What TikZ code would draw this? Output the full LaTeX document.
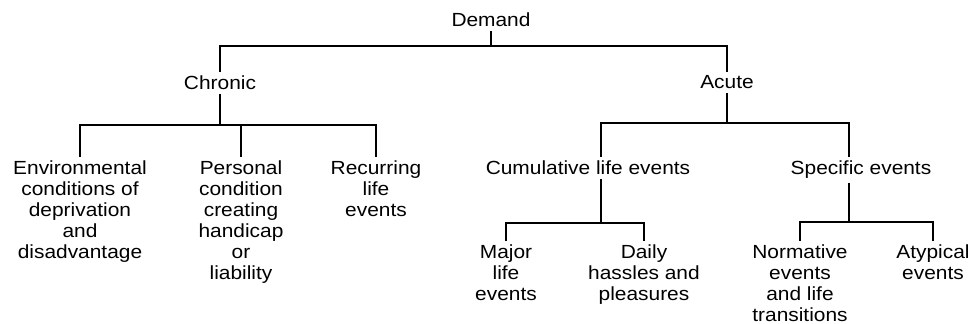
\documentclass[tikz,border=0pt]{standalone}
\usepackage{fontspec}
\setmainfont{Liberation Sans}[FakeStretch=1.1]
\begin{document}
\begin{tikzpicture}[x=1pt,y=-1pt,line width=1.8pt]
  \tikzstyle{term}=[anchor=north,inner sep=3pt,align=center,font=\fontsize{19}{21}\selectfont]
  \useasboundingbox (0,0) rectangle (972,324);
  \node[term] (D)    at (491,9)   {Demand};
  \node[term] (C)    at (220,72)  {Chronic};
  \node[term] (A)    at (727,72)  {Acute};
  \node[term] (C_1)  at (80,157)  {Environmental\\conditions of\\deprivation\\and\\disadvantage};
  \node[term] (C_2)  at (241,157) {Personal\\condition\\creating\\handicap\\or\\liability};
  \node[term] (C_3)  at (376,157) {Recurring\\life\\events};
  \node[term] (A_1)  at (588,157) {Cumulative life events};
  \node[term] (A_2)  at (861,157) {Specific events};
  \node[term] (A_11) at (506,241) {Major\\life\\events};
  \node[term] (A_12) at (644,241) {Daily\\hassles and\\pleasures};
  \node[term] (A_21) at (800,241) {Normative\\events\\and life\\transitions};
  \node[term] (A_22) at (933,241) {Atypical\\events};
  \coordinate (A_1s) at ([xshift=13pt]A_1.south);
  \coordinate (A_2s) at ([xshift=-12pt]A_2.south);
  \draw (D) -- (D |- 0,46) -| (C);
  \draw (D |- 0,46) -| (A);
  \draw (C) -- (C |- 0,125) -| (C_1);
  \draw (C |- 0,125) -| (C_2);
  \draw (C |- 0,125) -| (C_3);
  \draw (A) -- (A |- 0,123) -| ([xshift=13pt]A_1.north);
  \draw (A |- 0,123) -| ([xshift=-12pt]A_2.north);
  \draw (A_1s) -- (A_1s |- 0,223) -| (A_11);
  \draw (A_1s |- 0,223) -| (A_12);
  \draw (A_2s) -- (A_2s |- 0,222) -| (A_21);
  \draw (A_2s |- 0,222) -| (A_22);
\end{tikzpicture}
\end{document}
